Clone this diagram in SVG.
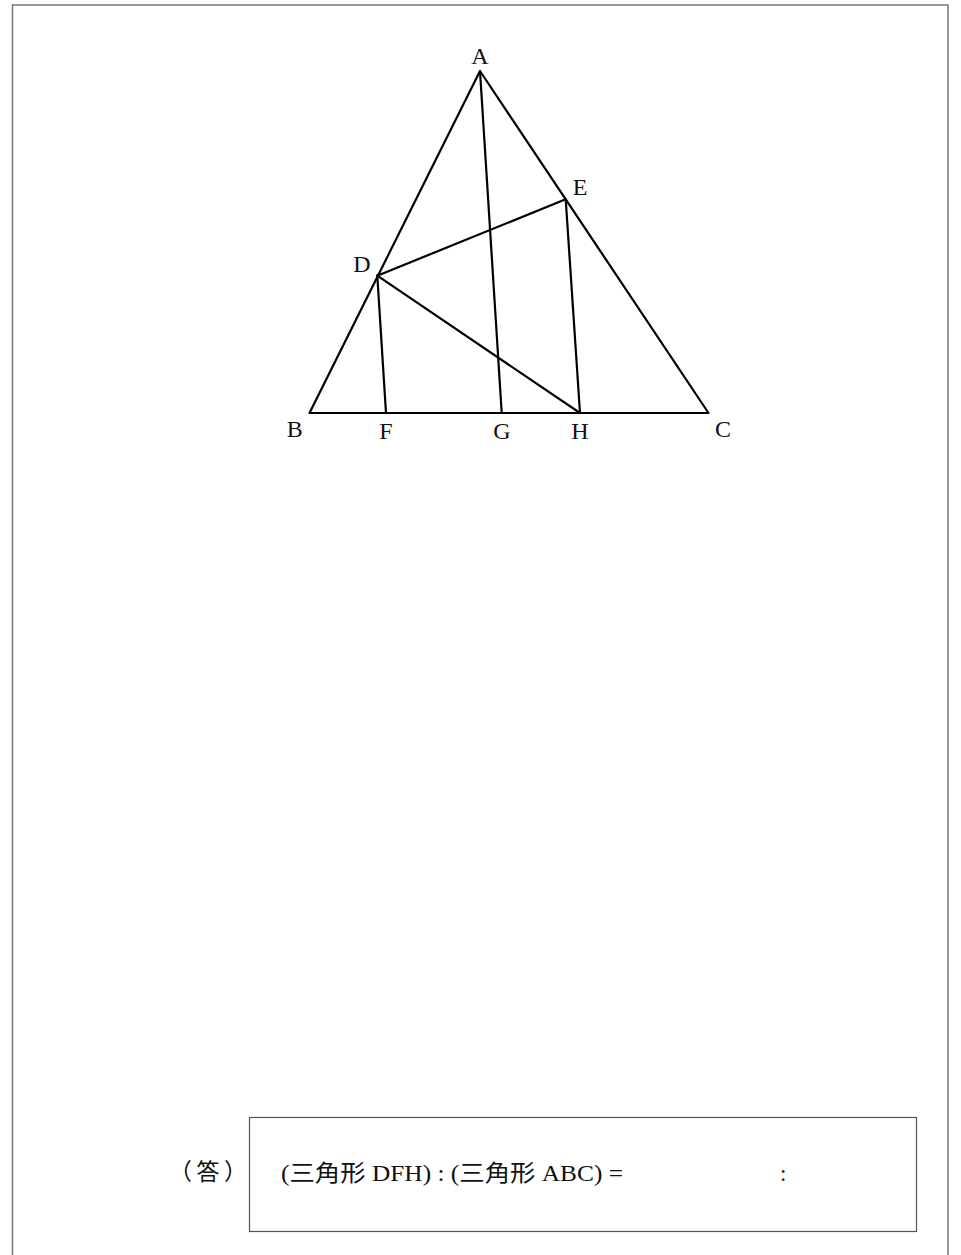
<svg xmlns="http://www.w3.org/2000/svg" width="961" height="1255" viewBox="0 0 961 1255">
<style>
.seg{stroke:#000;stroke-width:2.2;fill:none;stroke-linecap:round;stroke-linejoin:round}
.lbl{font-family:"Liberation Serif","Noto Sans CJK JP",serif;font-size:24px;fill:#111;text-anchor:middle}
.ans{font-family:"Liberation Serif","Noto Sans CJK JP",serif;font-size:23px;fill:#111}
</style>
<rect width="961" height="1255" fill="#fff"/>
<g id="page">
<path d="M12.5,1255 V5 H948 V1255" fill="none" stroke="#777" stroke-width="1.5"/>
</g>
<g id="connectors">
<polygon class="seg" points="480,71 309.5,413 708.5,413"/>
<line class="seg" x1="480" y1="71" x2="501.7" y2="413"/>
<line class="seg" x1="377.3" y1="275.7" x2="565.7" y2="199.3"/>
<line class="seg" x1="377.3" y1="275.7" x2="386" y2="413"/>
<line class="seg" x1="377.3" y1="275.7" x2="580" y2="413"/>
<line class="seg" x1="565.7" y1="199.3" x2="580" y2="413"/>
</g>
<g id="node-A"><text class="lbl" x="480" y="64">A</text></g>
<g id="node-B"><text class="lbl" x="294.7" y="437">B</text></g>
<g id="node-C"><text class="lbl" x="723" y="437">C</text></g>
<g id="node-D"><text class="lbl" x="362" y="272">D</text></g>
<g id="node-E"><text class="lbl" x="580" y="195">E</text></g>
<g id="node-F"><text class="lbl" x="386" y="439">F</text></g>
<g id="node-G"><text class="lbl" x="502" y="439">G</text></g>
<g id="node-H"><text class="lbl" x="580" y="439">H</text></g>
<g id="answer">
<text class="ans" x="169" y="1180" textLength="78" lengthAdjust="spacing">（答）</text>
<rect x="249.5" y="1117.5" width="667" height="114" fill="none" stroke="#555" stroke-width="1.2"/>
<text class="ans" x="281" y="1181" textLength="342" lengthAdjust="spacingAndGlyphs">(三角形 DFH) : (三角形 ABC) =</text>
<text class="ans" x="780" y="1181">:</text>
</g>
</svg>
